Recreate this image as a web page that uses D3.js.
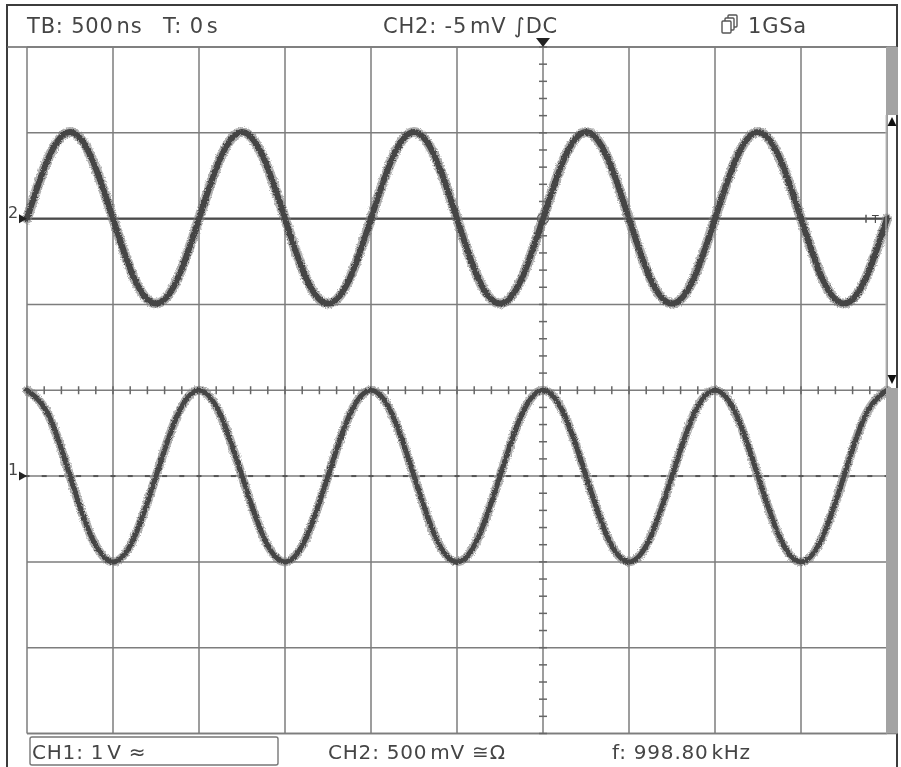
<!DOCTYPE html>
<html>
<head>
<meta charset="utf-8">
<script src="https://cdn.jsdelivr.net/npm/d3@7"></script>
<style>
  html, body { margin: 0; padding: 0; background: #fff; }
  svg { display: block; }
  text { font-family: "DejaVu Sans", "Liberation Sans", sans-serif; fill: #454545; }
</style>
</head>
<body>
<svg id="chart" width="901" height="767"></svg>
<script>
const timeNs = [-3000,-2875,-2750,-2625,-2500,-2375,-2250,-2125,-2000,-1875,-1750,-1625,-1500,-1375,-1250,-1125,
  -1000,-875,-750,-625,-500,-375,-250,-125,0,125,250,375,500,625,750,875,1000,1125,1250,1375,1500,1625,1750,1875,2000];
const ch2mV = [0,354,505,354,0,-352,-495,-352, 0,354,505,354,0,-352,-495,-352, 0,354,505,354,0,-352,-495,-352,
  0,354,505,354,0,-352,-495,-352, 0,354,505,354,0,-352,-495,-352, 0];
const ch1V = [1,0.71,0,-0.71,-1,-0.71,0,0.71, 1,0.71,0,-0.71,-1,-0.71,0,0.71, 1,0.71,0,-0.71,-1,-0.71,0,0.71,
  1,0.71,0,-0.71,-1,-0.71,0,0.71, 1,0.71,0,-0.71,-1,-0.71,0,0.71, 1];
const timeGridNs = [-3000,-2500,-2000,-1500,-1000,-500,0,500,1000,1500,2000];
const divGrid = [-4,-3,-2,-1,0,1,2,3,4];
const headerLabels = ["TB: 500\u200Ans", "T: 0\u200As", "CH2: -5\u200AmV \u222BDC", "1GSa"];
const footerLabels = ["CH1: 1\u200AV \u2248", "CH2: 500\u200AmV \u2245\u03A9", "f: 998.80\u200AkHz"];
const ch2OffsetDiv = 2, ch2PerDiv = 500;   // mV/div
const ch1OffsetDiv = -1, ch1PerDiv = 1;    // V/div

// ---- layout ----
const L = 27, R = 887, T = 47, B = 733.5;
const svg = d3.select("#chart");

const x = d3.scaleLinear().domain([-3000, 2000]).range([L, R]);
const yDiv = d3.scaleLinear().domain([-4, 4]).range([B, T]);
const y2 = d3.scaleLinear().domain([(-4 - ch2OffsetDiv) * ch2PerDiv, (4 - ch2OffsetDiv) * ch2PerDiv]).range([B, T]);
const y1 = d3.scaleLinear().domain([(-4 - ch1OffsetDiv) * ch1PerDiv, (4 - ch1OffsetDiv) * ch1PerDiv]).range([B, T]);

const defs = svg.append("defs");
const f = defs.append("filter").attr("id", "fuzz").attr("filterUnits", "userSpaceOnUse")
  .attr("x", 0).attr("y", 0).attr("width", 901).attr("height", 767);
f.append("feTurbulence").attr("type", "fractalNoise").attr("baseFrequency", 0.7).attr("numOctaves", 2).attr("seed", 4).attr("result", "n");
f.append("feDisplacementMap").attr("in", "SourceGraphic").attr("in2", "n").attr("scale", 3.5)
  .attr("xChannelSelector", "R").attr("yChannelSelector", "G");

// outer frame
svg.append("path").attr("d", `M7,767 V5 H897 V767`).attr("fill", "none").attr("stroke", "#3c3c3c").attr("stroke-width", 2);
svg.append("line").attr("x1", 7).attr("x2", 897).attr("y1", T).attr("y2", T).attr("stroke", "#666").attr("stroke-width", 1.6);
svg.append("line").attr("x1", L).attr("x2", 897).attr("y1", B).attr("y2", B).attr("stroke", "#666").attr("stroke-width", 1.6);

// grid
const grid = svg.append("g").attr("stroke", "#7d7d7d").attr("stroke-width", 1.5);
grid.selectAll("line.v").data(timeGridNs).join("line")
  .attr("x1", d => x(d)).attr("x2", d => x(d)).attr("y1", T).attr("y2", B);
grid.selectAll("line.h").data(divGrid).join("line")
  .attr("x1", L).attr("x2", R).attr("y1", d => yDiv(d)).attr("y2", d => yDiv(d));

// minor ticks on centre axes
const minorT = d3.range(-3000, 2001, 100);
const minorD = d3.range(-4, 4.01, 0.2);
const mt = svg.append("g").attr("stroke", "#666").attr("stroke-width", 1.5);
mt.selectAll("line.mx").data(minorT).join("line")
  .attr("x1", d => x(d)).attr("x2", d => x(d)).attr("y1", yDiv(0) - 4).attr("y2", yDiv(0) + 4);
mt.selectAll("line.my").data(minorD).join("line")
  .attr("x1", x(0) - 4).attr("x2", x(0) + 4).attr("y1", d => yDiv(d)).attr("y2", d => yDiv(d));

// CH1 ground reference (dashed)
svg.append("g").attr("stroke", "#555").attr("stroke-width", 2)
  .selectAll("line").data(minorT).join("line")
  .attr("x1", d => x(d) - 2.5).attr("x2", d => x(d) + 2.5).attr("y1", y1(0)).attr("y2", y1(0));
// CH2 ground reference (solid)
svg.append("line").attr("x1", L).attr("x2", R).attr("y1", y2(0)).attr("y2", y2(0))
  .attr("stroke", "#4a4a4a").attr("stroke-width", 2.2);
// trigger point circle
svg.append("circle").attr("cx", x(0)).attr("cy", y2(0)).attr("r", 5.5)
  .attr("fill", "none").attr("stroke", "#555").attr("stroke-width", 1.2);

// traces
const line2 = d3.line().x((d, i) => x(timeNs[i])).y(d => y2(d)).curve(d3.curveNatural);
const line1 = d3.line().x((d, i) => x(timeNs[i])).y(d => y1(d)).curve(d3.curveNatural);
const tr = svg.append("g").attr("filter", "url(#fuzz)").attr("fill", "none").attr("stroke-linecap", "round");
[[line2, ch2mV, 8.5], [line1, ch1V, 7.5]].forEach(([ln, data, w]) => {
  tr.append("path").attr("d", ln(data)).attr("stroke", "#7a7a7a").attr("stroke-width", w + 1.5).attr("opacity", 0.6);
  tr.append("path").attr("d", ln(data)).attr("stroke", "#444").attr("stroke-width", w - 2.5);
});

// right scrollbar
const sb = svg.append("g");
sb.append("rect").attr("x", 886).attr("y", T).attr("width", 12).attr("height", 115 - T).attr("fill", "#a3a3a3");
sb.append("rect").attr("x", 886).attr("y", 388).attr("width", 12).attr("height", B - 388).attr("fill", "#a3a3a3");
sb.append("line").attr("x1", 886).attr("x2", 886).attr("y1", 115).attr("y2", 388).attr("stroke", "#bbb").attr("stroke-width", 1);
sb.append("path").attr("d", "M892,117 L896.5,126 L887.5,126 Z").attr("fill", "#111");
sb.append("path").attr("d", "M892,384 L896.5,375 L887.5,375 Z").attr("fill", "#111");

// trigger position marker (top)
svg.append("path").attr("d", `M${x(0) - 7},${T - 9} L${x(0) + 7},${T - 9} L${x(0)},${T} Z`).attr("fill", "#222");
// trigger level marker (right)
svg.append("text").attr("x", 872).attr("y", y2(0) + 4).attr("font-size", 11).text("T");
svg.append("line").attr("x1", 866).attr("x2", 866).attr("y1", y2(0) - 4).attr("y2", y2(0) + 4).attr("stroke", "#555").attr("stroke-width", 1.5);

// channel markers (left)
[[2, y2(0)], [1, y1(0)]].forEach(([n, yy]) => {
  svg.append("text").attr("x", 8).attr("y", yy - 1).attr("font-size", 16).text(n);
  svg.append("path").attr("d", `M19,${yy - 4.5} L27,${yy} L19,${yy + 4.5} Z`).attr("fill", "#222");
});

// header
const hx = [27, 163, 383, 748];
svg.selectAll("text.hdr").data(headerLabels).join("text").attr("class", "hdr")
  .attr("x", (d, i) => hx[i]).attr("y", 33).attr("font-size", 21).attr("letter-spacing", 0.8).text(d => d);
// memory icon
const ic = svg.append("g").attr("fill", "#fff").attr("stroke", "#555").attr("stroke-width", 1.4);
[[728, 15], [725, 18], [722, 21]].forEach(([ix, iy]) => {
  ic.append("rect").attr("x", ix).attr("y", iy).attr("width", 9).attr("height", 12).attr("rx", 1);
});

// footer
svg.append("rect").attr("x", 30).attr("y", 737).attr("width", 248).attr("height", 28).attr("rx", 2)
  .attr("fill", "none").attr("stroke", "#777").attr("stroke-width", 1.4);
const fx = [32, 328, 612];
svg.selectAll("text.ftr").data(footerLabels).join("text").attr("class", "ftr")
  .attr("x", (d, i) => fx[i]).attr("y", 759).attr("font-size", 20).attr("letter-spacing", 0.8).text(d => d);
</script>
</body>
</html>
